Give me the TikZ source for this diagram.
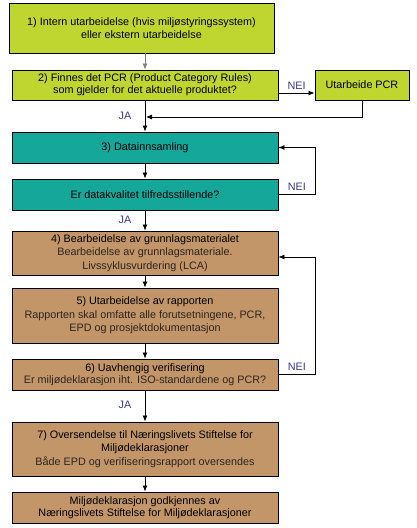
\documentclass[tikz,border=0pt]{standalone}
\usepackage{fontspec}
\setmainfont{Liberation Sans}
\usetikzlibrary{arrows.meta}

\definecolor{epdgreen}{RGB}{191,214,48}
\definecolor{epdteal}{RGB}{20,167,154}
\definecolor{epdbrown}{RGB}{195,150,106}
\definecolor{epdlabel}{RGB}{55,55,130}
\definecolor{epdtext}{RGB}{45,35,30}

\begin{document}
\begin{tikzpicture}[x=1pt,y=-1pt,
    box/.style={draw,line width=0.9pt,align=center,inner sep=0pt,
        font=\fontsize{10.8}{13.3}\selectfont},
    grbox/.style={box,fill=epdgreen},
    tlbox/.style={box,fill=epdteal},
    brbox/.style={box,fill=epdbrown},
    flow/.style={-{Latex[length=6pt,width=5pt]},line width=0.8pt},
    svar/.style={text=epdlabel,font=\fontsize{10.8}{11}\selectfont}]

    \useasboundingbox (0,0) rectangle (417,528);

    % boksene
    \node[grbox,minimum width=265,minimum height=50] (b1) at (141.5,28)
        {1) Intern utarbeidelse (hvis miljøstyringssystem)\\eller ekstern utarbeidelse};
    \node[grbox,minimum width=266,minimum height=30,font=\fontsize{10.8}{12}\selectfont] (b2) at (145,85)
        {2) Finnes det PCR (Product Category Rules)\\som gjelder for det aktuelle produktet?};
    \node[grbox,minimum width=94,minimum height=30] (pcr) at (362,85) {Utarbeide PCR};
    \node[tlbox,minimum width=266,minimum height=31] (b3) at (145,147.5) {3) Datainnsamling};
    \node[tlbox,minimum width=266,minimum height=31] (q3) at (145,194.5) {Er datakvalitet tilfredsstillende?};
    \node[brbox,minimum width=266,minimum height=44] (b4) at (145,253)
        {4) Bearbeidelse av grunnlagsmaterialet\\\color{epdtext}Bearbeidelse av grunnlagsmateriale.\\\color{epdtext}Livssyklusvurdering (LCA)};
    \node[brbox,minimum width=266,minimum height=55] (b5) at (145,315.5)
        {5) Utarbeidelse av rapporten\\\color{epdtext}Rapporten skal omfatte alle forutsetningene, PCR,\\\color{epdtext}EPD og prosjektdokumentasjon};
    \node[brbox,minimum width=266,minimum height=31,font=\fontsize{10.8}{12}\selectfont] (b6) at (145,374.5)
        {6) Uavhengig verifisering\\\color{epdtext}Er miljødeklarasjon iht. ISO-standardene og PCR?};
    \node[brbox,minimum width=266,minimum height=54] (b7) at (145,449)
        {7) Oversendelse til Næringslivets Stiftelse for\\Miljødeklarasjoner\\\color{epdtext}Både EPD og verifiseringsrapport oversendes};
    \node[brbox,minimum width=266,minimum height=31,font=\fontsize{10.8}{12}\selectfont] (b8) at (145,507.5)
        {Miljødeklarasjon godkjennes av\\Næringslivets Stiftelse for Miljødeklarasjoner};

    % piler
    \coordinate (ja1) at (145,117);
    \draw[flow,gray] (b1.south -| b2) -- (b2);
    \draw[flow] ([yshift=-8pt]b2.east) -- node[svar,above] {NEI} ([yshift=-8pt]pcr.west);
    \draw[flow] (pcr.south) |- ([xshift=1pt]ja1);
    \draw[flow] (b2) -- (b3);
    \node[svar] (ja1l) at (125,116) {JA};

    \draw[flow] (b3) -- (q3);
    \draw[flow] (q3.east) -- node[svar,above] {NEI} ++(37,0) |- (b3.east);
    \draw[flow] (q3) -- (b4);
    \node[svar] (ja2l) at (125,220) {JA};

    \draw[flow] (b4) -- (b5);
    \draw[flow] (b5) -- (b6);
    \draw[flow] (b6.east) -- node[svar,above] {NEI} ++(37,0) |- ([yshift=-4pt]b4.east);
    \draw[flow] (b6) -- (b7);
    \node[svar] (ja3l) at (125,405) {JA};
    \draw[flow] (b7) -- (b8);
\end{tikzpicture}
\end{document}
